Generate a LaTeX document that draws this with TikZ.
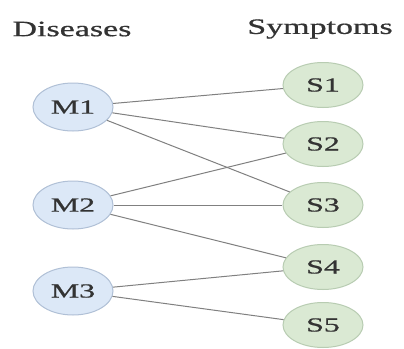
\documentclass[tikz,border=0pt]{standalone}
\usepackage{graphicx}
\usepackage{fontspec}
\setmainfont{Liberation Serif}[FakeBold=0.6]
\usepackage{tikz}
\usetikzlibrary{shapes.geometric}
\definecolor{mfill}{RGB}{220,232,247}
\definecolor{mline}{RGB}{176,192,214}
\definecolor{sfill}{RGB}{218,233,211}
\definecolor{sline}{RGB}{184,204,178}
\definecolor{linkgray}{RGB}{128,128,128}
\newcommand{\widen}[1]{\scalebox{1.6}[1]{#1}}

\begin{document}
\begin{tikzpicture}[x=1bp, y=-1bp,
  disease/.style={ellipse, draw=mline, fill=mfill, line width=1bp,
                  minimum width=80bp, minimum height=48bp, inner sep=0pt,
                  font=\fontsize{20}{24}\selectfont, text=black!80},
  symptom/.style={ellipse, draw=sline, fill=sfill, line width=1bp,
                  minimum width=80bp, minimum height=45bp, inner sep=0pt,
                  font=\fontsize{20}{24}\selectfont, text=black!80},
  title/.style={font=\fontsize{22}{26}\selectfont, text=black!80, inner sep=0pt},
  link/.style={draw=linkgray, line width=1bp}
]
\useasboundingbox[fill=white] (0,0) rectangle (404,349);

\node[title] (dis) at (72,29) {\scalebox{1.55}[1]{Diseases}};
\node[title] (sym) at (320,29) {\scalebox{1.55}[1]{Symptoms}};

\node[disease] (m1) at (73,107) {\widen{M1}};
\node[disease] (m2) at (73,205) {\widen{M2}};
\node[disease] (m3) at (73,291) {\widen{M3}};

\node[symptom] (s1) at (323,85) {\widen{S1}};
\node[symptom] (s2) at (323,144) {\widen{S2}};
\node[symptom] (s3) at (323,205) {\widen{S3}};
\node[symptom] (s4) at (323,267) {\widen{S4}};
\node[symptom] (s5) at (323,325) {\widen{S5}};

\draw[link] (m1) -- (s1);
\draw[link] (m1) -- (s2);
\draw[link] (m1) -- (s3);
\draw[link] (m2) -- (s2);
\draw[link] (m2) -- (s3);
\draw[link] (m2) -- (s4);
\draw[link] (m3) -- (s4);
\draw[link] (m3) -- (s5);
\end{tikzpicture}
\end{document}
